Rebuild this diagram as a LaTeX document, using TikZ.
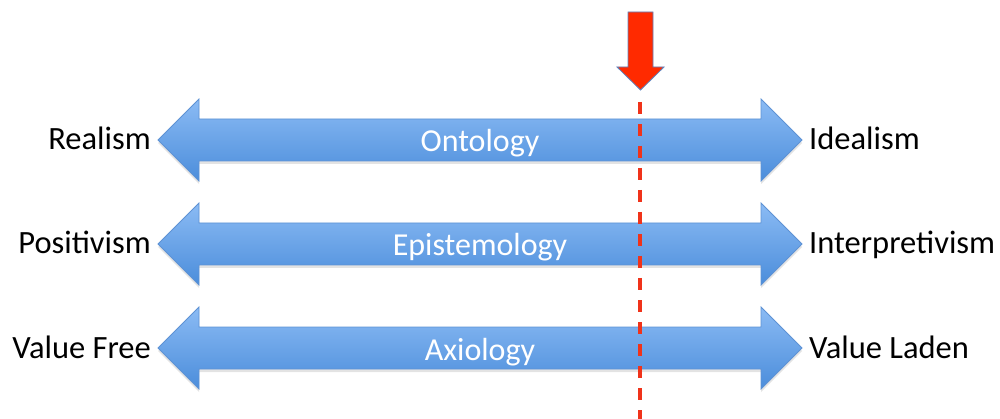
\documentclass[tikz,border=0pt]{standalone}
\usepackage{fontspec}
\setmainfont{Carlito}
\usetikzlibrary{shadows}
\definecolor{barTop}{HTML}{8BBBF4}
\definecolor{barBot}{HTML}{4B8DDB}
\definecolor{barEdge}{HTML}{5E92D4}
\definecolor{markRed}{HTML}{FF2A00}
\definecolor{markEdge}{HTML}{5B86C4}
\definecolor{dashRed}{HTML}{F0331A}
\tikzset{
  barfill/.style={draw=barEdge, line width=0.8pt,
    top color=barTop, bottom color=barBot,
    drop shadow={opacity=0.22, shadow xshift=0pt, shadow yshift=-3pt}},
  spectrum/.pic={
    \path[barfill] (-322,0) -- (-281,-41) -- (-281,-21) -- (281,-21)
      -- (281,-41) -- (322,0) -- (281,41) -- (281,21) -- (-281,21)
      -- (-281,41) -- cycle;
    \coordinate (-left) at (-322,0);
    \coordinate (-right) at (322,0);
    \coordinate (-mid) at (0,0);
  },
  barname/.style={text=white, font=\fontsize{32}{36}\selectfont,
    inner sep=0pt, anchor=base},
  pole/.style={font=\fontsize{32.5}{36}\selectfont, inner sep=0pt},
  pointer/.style={draw=markEdge, line width=0.8pt, fill=markRed},
  position/.style={dashRed, line width=3.2pt, dash pattern=on 12pt off 10pt}
}
\begin{document}
\begin{tikzpicture}[x=1pt,y=-1pt]
\useasboundingbox (0,0) rectangle (1000,419);

% the three spectra
\pic (ont) at (480,140) {spectrum};
\pic (epi) at (480,244) {spectrum};
\pic (axi) at (480,348) {spectrum};

\node[barname] (ontname) at ([yshift=-12pt]ont-mid) {Ontology};
\node[barname] (epiname) at ([yshift=-12pt]epi-mid) {Epistemology};
\node[barname] (axiname) at ([yshift=-12pt]axi-mid) {Axiology};

% poles of each spectrum
\node[pole, anchor=base east] (realism) at ([xshift=-7pt,yshift=-10pt]ont-left) {Realism};
\node[pole, anchor=base west] (idealism) at ([xshift=7pt,yshift=-10pt]ont-right) {Idealism};
\node[pole, anchor=base east] (positivism) at ([xshift=-7pt,yshift=-10pt]epi-left) {Positivism};
\node[pole, anchor=base west] (interpretivism) at ([xshift=7pt,yshift=-10pt]epi-right) {Interpretivism};
\node[pole, anchor=base east] (valuefree) at ([xshift=-7pt,yshift=-10pt]axi-left) {Value Free};
\node[pole, anchor=base west] (valueladen) at ([xshift=7pt,yshift=-10pt]axi-right) {Value Laden};

% position marker
\path[pointer] (628,12) -- (653,12) -- (653,67) -- (664,67) -- (640.5,90)
  -- (617,67) -- (628,67) -- cycle;
\coordinate (dashtop) at (640,102);
\coordinate (dashbot) at (640,419);
\draw[position] (dashtop) -- (dashbot);
\end{tikzpicture}
\end{document}
